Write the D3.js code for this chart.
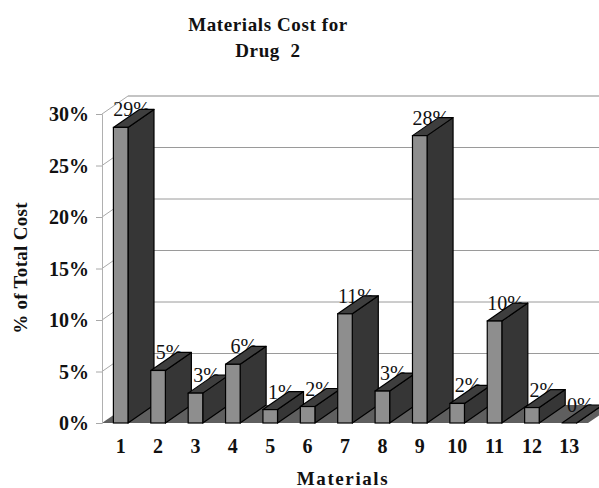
<!DOCTYPE html>
<html>
<head>
<meta charset="utf-8">
<script src="https://cdn.jsdelivr.net/npm/d3@7/dist/d3.min.js"></script>
<style>
  html, body { margin: 0; padding: 0; background: #fff; }
  svg { display: block; }
  text { font-family: "Liberation Serif", "Times New Roman", serif; fill: #111; }
</style>
</head>
<body>
<svg id="chart" width="599" height="488"></svg>
<script>
// Share of total materials cost per material (percent)
const materials = ["1", "2", "3", "4", "5", "6", "7", "8", "9", "10", "11", "12", "13"];
const costShare = [28.7, 5.1, 2.9, 5.7, 1.3, 1.6, 10.6, 3.1, 27.9, 1.9, 9.9, 1.5, 0];
const yTicks = [0, 5, 10, 15, 20, 25, 30];
const titleLines = ["Materials Cost for", "Drug  2"];

const svg = d3.select("#chart");
const W = 599, H = 488;

// Front plane of the 3D plot box and the depth offset of the back wall
const plot = { left: 102, right: 588, top: 114, bottom: 423 };
const depth = { dx: 26, dy: -18 };

const x = d3.scaleBand().domain(materials).range([plot.left, plot.right]);
const y = d3.scaleLinear().domain([0, 30]).range([plot.bottom, plot.top]);
const barW = x.bandwidth() * 0.39;
const pct = v => d3.format(".0%")(v / 100);

// Title
svg.append("g").selectAll("text").data(titleLines).join("text")
  .attr("x", 268).attr("y", (d, i) => 31 + i * 26)
  .attr("text-anchor", "middle")
  .style("font-size", "19px").style("font-weight", "bold")
  .style("letter-spacing", "0.6px")
  .style("white-space", "pre")
  .text(d => d);

// Floor
const y0 = y(0);
svg.append("polygon")
  .attr("points", [
    [plot.left, y0], [plot.right, y0],
    [plot.right + depth.dx, y0 + depth.dy], [plot.left + depth.dx, y0 + depth.dy]
  ].map(p => p.join(",")).join(" "))
  .attr("fill", "#5f5f5f");

// Back wall gridlines
const grid = svg.append("g");
grid.selectAll("line.back").data(yTicks.filter(t => t > 0)).join("line")
  .attr("class", "back")
  .attr("x1", plot.left + depth.dx).attr("x2", W)
  .attr("y1", d => y(d) + depth.dy).attr("y2", d => y(d) + depth.dy)
  .attr("stroke", d => d === 30 ? "#c4c4c4" : "#9a9a9a")
  .attr("stroke-width", d => d === 30 ? 2 : 1);

// Left wall gridlines (diagonals from the axis to the back wall)
grid.selectAll("line.side").data(yTicks.filter(t => t > 0)).join("line")
  .attr("class", "side")
  .attr("x1", plot.left).attr("x2", plot.left + depth.dx)
  .attr("y1", d => y(d)).attr("y2", d => y(d) + depth.dy)
  .attr("stroke", "#a8a8a8").attr("stroke-width", 1);

// Value axis
const yAxis = d3.axisLeft(y).tickValues(yTicks).tickSize(6).tickPadding(7)
  .tickFormat(d => d + "%");
const yg = svg.append("g").attr("transform", `translate(${plot.left},0)`).call(yAxis);
yg.select(".domain").attr("stroke", "#b0b0b0");
yg.selectAll(".tick line").attr("stroke", "#a8a8a8");
yg.selectAll(".tick text")
  .style("font-family", "'Liberation Serif', serif")
  .style("font-size", "20px").style("font-weight", "bold").attr("fill", "#111")
  .attr("dy", "0.34em");

// Category axis labels
const xAxis = d3.axisBottom(x).tickSize(0).tickPadding(0);
const xg = svg.append("g").attr("transform", `translate(0,${plot.bottom})`).call(xAxis);
xg.select(".domain").remove();
xg.selectAll(".tick text")
  .style("font-family", "'Liberation Serif', serif")
  .style("font-size", "20px").style("font-weight", "bold").attr("fill", "#111")
  .attr("dy", "0").attr("y", 30);

// Axis titles
svg.append("text")
  .attr("x", 343).attr("y", 485)
  .attr("text-anchor", "middle")
  .style("font-size", "19px").style("font-weight", "bold").style("letter-spacing", "1.6px")
  .text("Materials");
svg.append("text")
  .attr("transform", "translate(27,268) rotate(-90)")
  .attr("text-anchor", "middle")
  .style("font-size", "19px").style("font-weight", "bold").style("letter-spacing", "0.3px")
  .text("% of Total Cost");

const bars = materials.map((m, i) => ({ m, v: costShare[i] }));
const fx = d => x(d.m) + (x.bandwidth() - barW) / 2;

// Value labels sit behind the bars
svg.append("g").selectAll("text").data(bars).join("text")
  .attr("x", d => fx(d) + (barW + depth.dx) / 2 - 2)
  .attr("y", d => y(d.v) - 11)
  .attr("text-anchor", "middle")
  .style("font-size", "20px")
  .text(d => pct(d.v));

// 3D bars: front face, side face, top face
const barG = svg.append("g").selectAll("g").data(bars).join("g");
const pts = arr => arr.map(p => p.join(",")).join(" ");
barG.append("polygon")
  .attr("points", d => {
    const x1 = fx(d) + barW, yt = y(d.v);
    return pts([[x1, yt], [x1 + depth.dx, yt + depth.dy], [x1 + depth.dx, y0 + depth.dy], [x1, y0]]);
  })
  .attr("fill", "#363636").attr("stroke", "#000").attr("stroke-width", 1.2).attr("stroke-linejoin", "round");
barG.append("polygon")
  .attr("points", d => {
    const x0 = fx(d), x1 = x0 + barW, yt = y(d.v);
    return pts([[x0, yt], [x1, yt], [x1 + depth.dx, yt + depth.dy], [x0 + depth.dx, yt + depth.dy]]);
  })
  .attr("fill", "#3e3e3e").attr("stroke", "#000").attr("stroke-width", 1.2).attr("stroke-linejoin", "round");
barG.filter(d => d.v > 0).append("rect")
  .attr("x", fx).attr("y", d => y(d.v))
  .attr("width", barW).attr("height", d => y0 - y(d.v))
  .attr("fill", "#8e8e8e").attr("stroke", "#000").attr("stroke-width", 1.2);
</script>
</body>
</html>
